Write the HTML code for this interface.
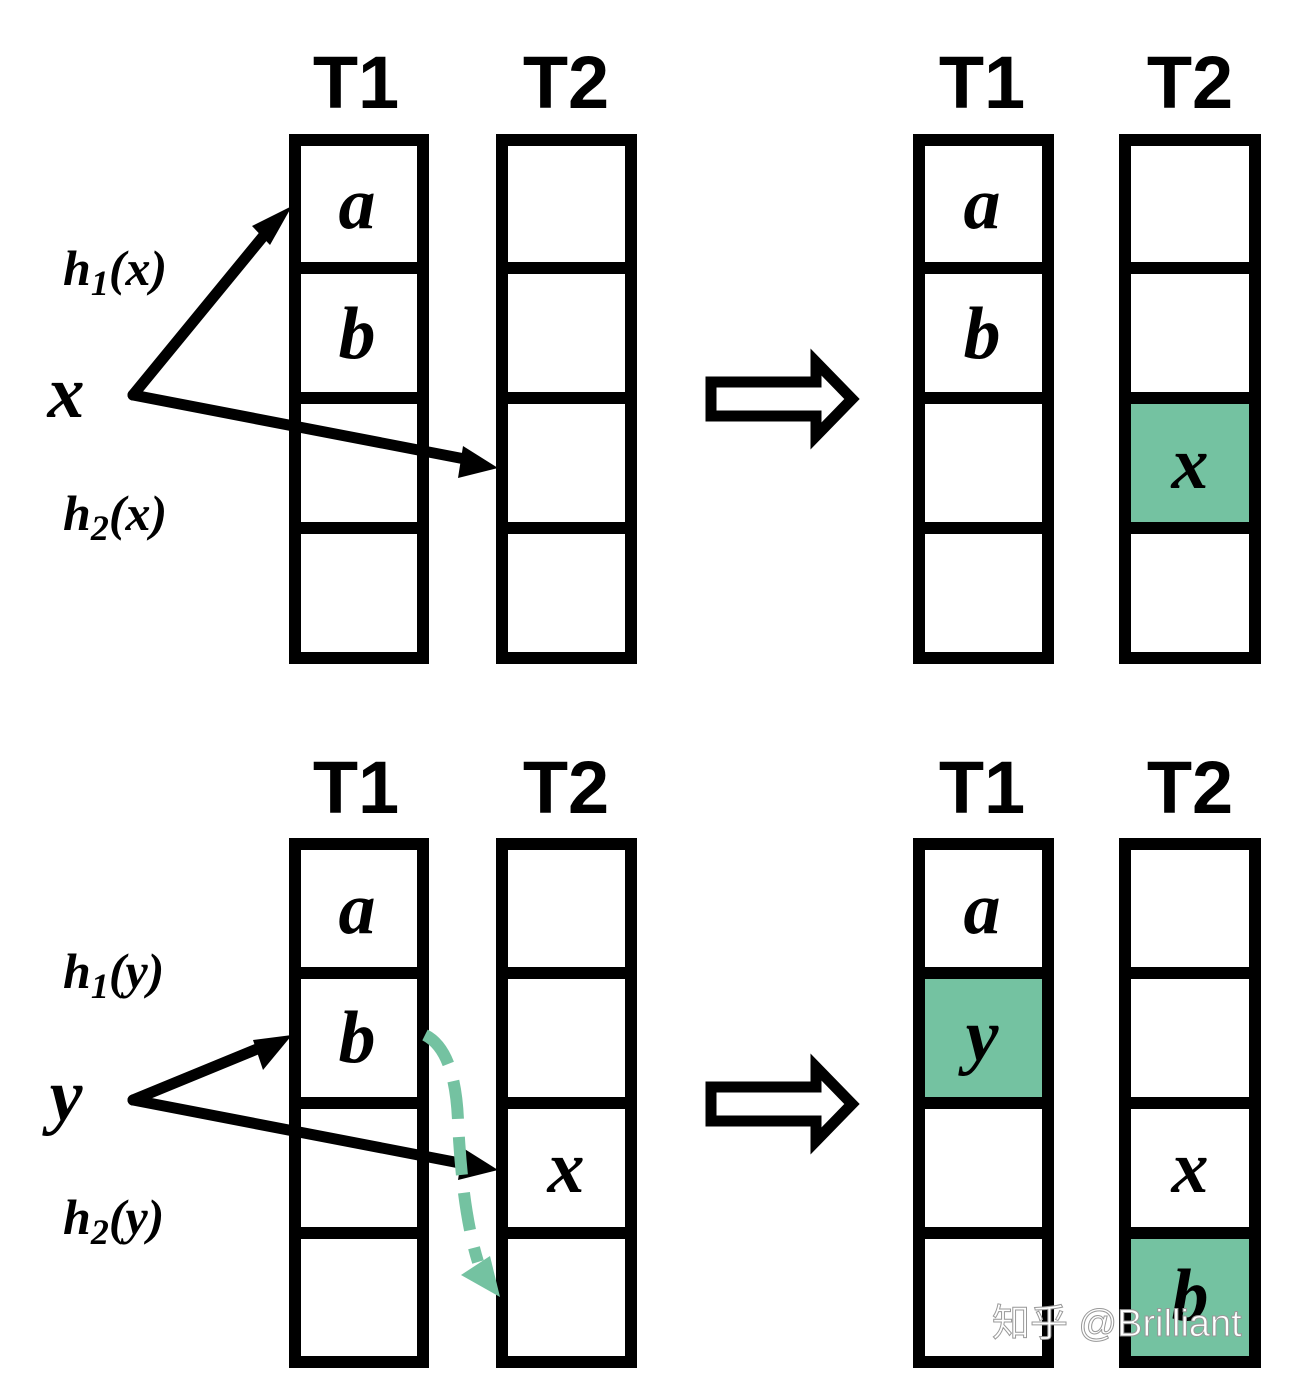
<!DOCTYPE html>
<html><head><meta charset="utf-8"><style>
html,body{margin:0;padding:0;background:#fff;}
svg{display:block;}
.m{font-family:"Liberation Serif",serif;font-style:italic;font-weight:bold;}
.t{font-family:"Liberation Sans",sans-serif;font-weight:bold;font-size:74px;}
</style></head><body>
<svg width="1292" height="1375" viewBox="0 0 1292 1375" xmlns="http://www.w3.org/2000/svg">
<defs>
<marker id="ah" markerWidth="8" markerHeight="8" refX="6" refY="4" orient="auto" markerUnits="userSpaceOnUse" viewBox="0 0 8 8"><path d="M0,0 L8,4 L0,8 Z"/></marker>
</defs>
<!-- green fills -->
<g fill="#74c2a1">
<rect x="1131" y="404" width="118" height="118"/>
<rect x="925" y="979" width="118" height="118"/>
<rect x="1131" y="1239" width="118" height="124"/>
</g>
<g fill="none" stroke="#000" stroke-width="12">
<!-- top-left -->
<rect x="295" y="140" width="128" height="518"/><path d="M295 268H423M295 398H423M295 528H423"/>
<rect x="502" y="140" width="129" height="518"/><path d="M502 268H631M502 398H631M502 528H631"/>
<!-- top-right -->
<rect x="919" y="140" width="129" height="518"/><path d="M919 268H1048M919 398H1048M919 528H1048"/>
<rect x="1125" y="140" width="130" height="518"/><path d="M1125 268H1255M1125 398H1255M1125 528H1255"/>
<!-- bottom-left -->
<rect x="295" y="844" width="128" height="518"/><path d="M295 973H423M295 1103H423M295 1233H423"/>
<rect x="502" y="844" width="129" height="518"/><path d="M502 973H631M502 1103H631M502 1233H631"/>
<!-- bottom-right -->
<rect x="919" y="844" width="129" height="518"/><path d="M919 973H1048M919 1103H1048M919 1233H1048"/>
<rect x="1125" y="844" width="130" height="518"/><path d="M1125 973H1255M1125 1103H1255M1125 1233H1255"/>
<!-- hollow arrows -->
<path d="M711 382H816V362L852 399L816 436V416H711Z" stroke-width="11" stroke-linejoin="miter"/>
<path d="M711 1087H816V1067L852 1104L816 1141V1121H711Z" stroke-width="11" stroke-linejoin="miter"/>
</g>
<!-- black arrows -->
<g stroke="#000" stroke-width="11" fill="none" stroke-linecap="round">
<path d="M133 395L270 228"/>
<path d="M133 395L470 460"/>
<path d="M133 1100L262 1047"/>
<path d="M133 1100L470 1165"/>
</g>
<g fill="#000">
<path d="M292 206L270 245L252 226Z"/>
<path d="M498 468L458 478L463 446Z"/>
<path d="M292 1035L263 1070L253 1040Z"/>
<path d="M498 1170L458 1180L463 1148Z"/>
</g>
<!-- green dashed -->
<path d="M425 1035Q455 1050 458 1120Q462 1210 478 1262" fill="none" stroke="#74c2a1" stroke-width="12" stroke-dasharray="38,18"/>
<path d="M500 1297L461 1275L490 1256Z" fill="#74c2a1"/>
<!-- titles -->
<g class="t" text-anchor="middle">
<text x="356" y="108">T1</text><text x="566" y="108">T2</text>
<text x="982" y="108">T1</text><text x="1190" y="108">T2</text>
<text x="356" y="813">T1</text><text x="566" y="813">T2</text>
<text x="982" y="813">T1</text><text x="1190" y="813">T2</text>
</g>
<g class="m" font-size="74" text-anchor="middle">
<text x="357" y="228">a</text><text x="357" y="358">b</text>
<text x="982" y="228">a</text><text x="982" y="358">b</text>
<text x="1190" y="488">x</text>
<text x="357" y="933">a</text><text x="357" y="1062">b</text>
<text x="566" y="1192">x</text>
<text x="982" y="933">a</text><text x="982" y="1060">y</text>
<text x="1190" y="1192">x</text><text x="1190" y="1320">b</text>
<text x="66" y="417">x</text><text x="66" y="1120">y</text>
</g>
<g class="m" font-size="50">
<text x="63" y="285">h<tspan font-size="36" dy="10">1</tspan><tspan dy="-10">(x)</tspan></text>
<text x="63" y="530">h<tspan font-size="36" dy="10">2</tspan><tspan dy="-10">(x)</tspan></text>
<text x="63" y="988">h<tspan font-size="36" dy="10">1</tspan><tspan dy="-10">(y)</tspan></text>
<text x="63" y="1234">h<tspan font-size="36" dy="10">2</tspan><tspan dy="-10">(y)</tspan></text>
</g>
<text x="992" y="1336" font-family="'Liberation Sans','Noto Sans CJK SC',sans-serif" font-size="38" fill="#fff" stroke="#999" stroke-width="1">知乎 @Brilliant</text>
</svg>
</body></html>
